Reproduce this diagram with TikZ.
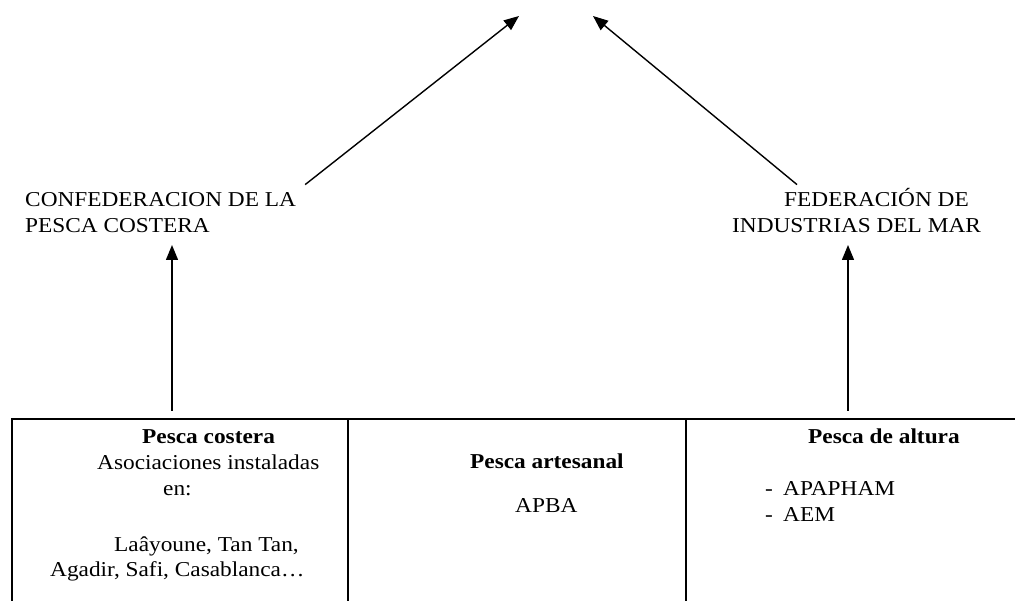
\documentclass[tikz,border=0pt]{standalone}
\usepackage{fontspec}
\setmainfont[FakeStretch=1.1]{Liberation Serif}
\usetikzlibrary{arrows.meta}
\begin{document}
\begin{tikzpicture}[x=1pt,y=-1pt,
  hdr/.style={inner sep=0pt,anchor=base west,font=\fontsize{21.2}{26}\selectfont},
  celltxt/.style={inner sep=0pt,anchor=base west,font=\fontsize{21.2}{26}\selectfont},
  cell/.style={inner sep=0pt,minimum height=182pt},
  arr/.style={line width=1.4pt,-{Triangle[length=15pt,width=12pt]}},
  tbl/.style={line width=2pt}]
\useasboundingbox (0,0) rectangle (1015,601);
% header nodes
\node[hdr] (conf) at (25,207) {\begin{tabular}[t]{@{}l@{}}CONFEDERACION DE LA\\ PESCA COSTERA\end{tabular}};
\node[hdr] (fed) at (732,207) {\begin{tabular}[t]{@{}l@{}}\hspace*{52pt}FEDERACIÓN DE\\ INDUSTRIAS DEL MAR\end{tabular}};
\coordinate (topL) at (519,16);
\coordinate (topR) at (593,16);
% table cells
\node[cell,minimum width=336pt] (cA) at (180,510) {};
\node[cell,minimum width=338pt] (cB) at (517,510) {};
\node[cell,minimum width=329pt] (cC) at (850.5,510) {};
\draw[tbl] (cA.south west) |- (cC.north east);
\draw[tbl] (cA.north east) -- (cA.south east);
\draw[tbl] (cB.north east) -- (cB.south east);
% cell texts
\node[celltxt] (tA) at (50,443) {\begin{tabular}[t]{@{}l@{}}\hspace*{92pt}\textbf{Pesca costera}\\ \hspace*{47pt}Asociaciones instaladas\\ \hspace*{113pt}en:\\[30pt] \hspace*{64pt}Laâyoune, Tan Tan,\\ Agadir, Safi, Casablanca…\end{tabular}};
\node[celltxt] (tB) at (470,468) {\begin{tabular}[t]{@{}l@{}}\textbf{Pesca artesanal}\\[18pt] \hspace*{45pt}APBA\end{tabular}};
\node[celltxt] (tC) at (765,443) {\begin{tabular}[t]{@{}l@{}}\hspace*{43pt}\textbf{Pesca de altura}\\[26pt] \makebox[18pt][l]{-}APAPHAM\\ \makebox[18pt][l]{-}AEM\end{tabular}};
% connectors
\coordinate (aL) at ([shift={(-8,-8)}]cA.north);
\coordinate (aR) at ([shift={(-2.5,-8)}]cC.north);
\draw[arr] ([shift={(9,-4)}]conf.north east) -- (topL);
\draw[arr] ([shift={(65,-4)}]fed.north west) -- (topR);
\draw[arr] (aL) -- ([yshift=-4pt]aL |- conf.south);
\draw[arr] (aR) -- ([yshift=-4pt]aR |- fed.south);
\end{tikzpicture}
\end{document}
